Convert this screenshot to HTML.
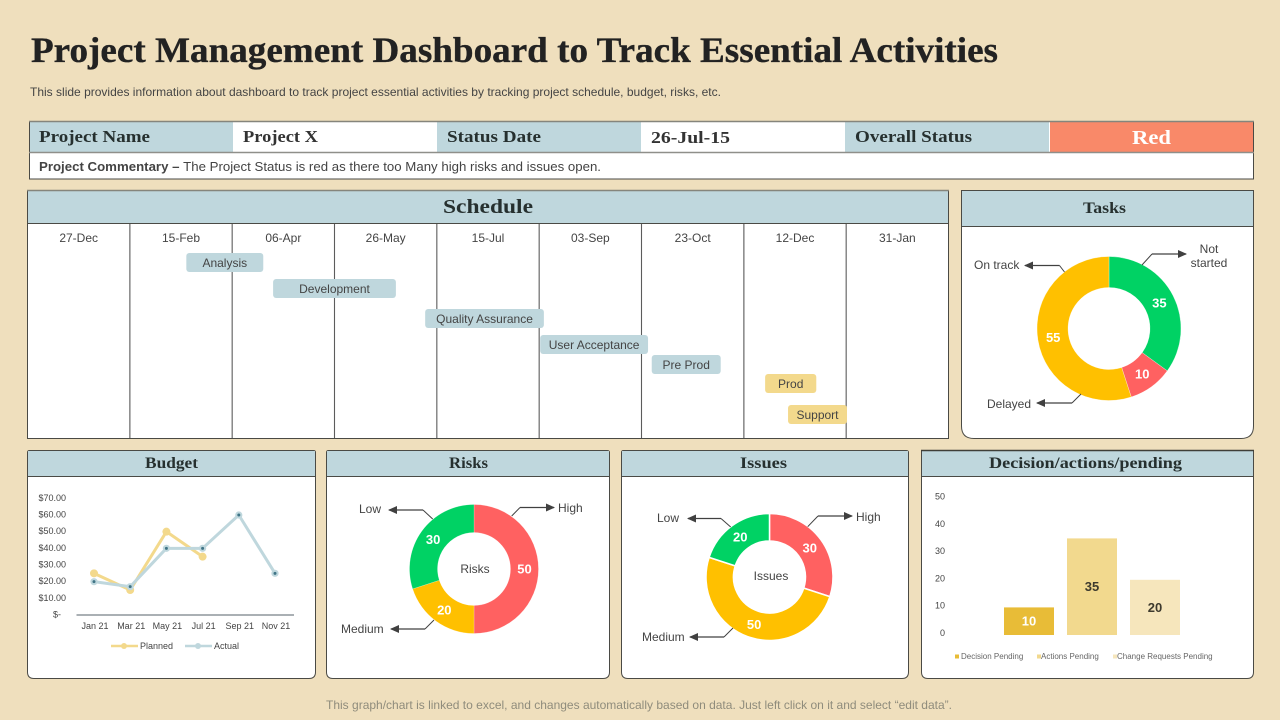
<!DOCTYPE html>
<html lang="en">
<head>
<meta charset="utf-8">
<title>Project Management Dashboard</title>
<style>
html,body{margin:0;padding:0;background:#EFDFBD;}
svg{display:block;width:1280px;height:720px;}
text{font-family:"Liberation Sans",sans-serif;fill:#444;}
.serif{font-family:"Liberation Serif",serif;font-weight:bold;fill:#26302f;}
.head{fill:#BFD7DD;}
.call{fill:none;stroke:#404040;stroke-width:1;}
.arrow{fill:none;stroke:#404040;stroke-width:1.2;marker-end:url(#arrowhead);}
.lab{font-size:12px;}
</style>
</head>
<body>
<svg id="dash" xmlns="http://www.w3.org/2000/svg" width="1280" height="720" viewBox="0 0 1280 720">
<defs>
<marker id="arrowhead" markerWidth="9" markerHeight="8" refX="8" refY="4" orient="auto" markerUnits="userSpaceOnUse"><path d="M0,0 L9,4 L0,8 Z" fill="#404040"/></marker>
</defs>
<rect width="1280" height="720" fill="#EFDFBD"/>
<text class="serif" x="31" y="62" font-size="36" textLength="967" lengthAdjust="spacingAndGlyphs" style="fill:#222;stroke:#222;stroke-width:.35">Project Management Dashboard to Track Essential Activities</text>
<text x="30" y="96" font-size="12" fill="#555" textLength="691" lengthAdjust="spacingAndGlyphs">This slide provides information about dashboard to track project essential activities by tracking project schedule, budget, risks, etc.</text>

<!-- status table -->
<g>
<rect x="29.5" y="121.5" width="1224" height="57.5" fill="#fff" stroke="#4a4a45"/>
<rect x="30" y="122" width="203" height="30" class="head"/>
<rect x="437" y="122" width="204" height="30" class="head"/>
<rect x="845" y="122" width="204" height="30" class="head"/>
<rect x="1050" y="122" width="203" height="30" fill="#F98969"/>
<line x1="29" y1="152.5" x2="1254" y2="152.5" stroke="#8f8f8a" stroke-width="1.5"/>
<line x1="29" y1="121.5" x2="1254" y2="121.5" stroke="#85857c" stroke-width="1.5"/>
<text class="serif" x="39" y="142" font-size="17" textLength="111" lengthAdjust="spacingAndGlyphs">Project Name</text>
<text class="serif" x="243" y="142" font-size="17" textLength="75" lengthAdjust="spacingAndGlyphs" style="fill:#333">Project X</text>
<text class="serif" x="447" y="142" font-size="17" textLength="94" lengthAdjust="spacingAndGlyphs">Status Date</text>
<text class="serif" x="651" y="143" font-size="17" textLength="79" lengthAdjust="spacingAndGlyphs" style="fill:#333">26-Jul-15</text>
<text class="serif" x="855" y="142" font-size="17" textLength="117" lengthAdjust="spacingAndGlyphs">Overall Status</text>
<text class="serif" x="1132" y="144" font-size="20" textLength="39" lengthAdjust="spacingAndGlyphs" style="fill:#fff">Red</text>
<text x="39" y="171" font-size="12.5" fill="#444" textLength="562" lengthAdjust="spacingAndGlyphs"><tspan font-weight="bold">Project Commentary – </tspan>The Project Status is red as there too Many high risks and issues open.</text>
</g>

<!-- schedule -->
<g id="schedule">
<rect x="27.5" y="190.5" width="921" height="248" fill="#fff" stroke="#4a4a45"/>
<rect x="28" y="191" width="920" height="32" class="head"/>
<line x1="27" y1="190.5" x2="949" y2="190.5" stroke="#85857c" stroke-width="1.5"/>
<line x1="27" y1="223.5" x2="949" y2="223.5" stroke="#4a4a45"/>
<text class="serif" x="443" y="213" font-size="20" textLength="90" lengthAdjust="spacingAndGlyphs">Schedule</text>
</g>

<!-- tasks -->
<g id="tasks">
<path d="M961.5,190.5 H1253.5 V426 Q1253.5,438.5 1241,438.5 H974 Q961.5,438.5 961.5,426 Z" fill="#fff" stroke="#4a4a45"/>
<rect x="962" y="191" width="291" height="35" class="head"/>
<line x1="961" y1="226.5" x2="1254" y2="226.5" stroke="#4a4a45"/>
<text class="serif" x="1083" y="213" font-size="16" textLength="43" lengthAdjust="spacingAndGlyphs">Tasks</text>
<polyline class="call" points="1142,265 1152,254"/>
<line class="arrow" x1="1152" y1="254" x2="1186" y2="254"/>
<text class="lab" x="1209" y="253" text-anchor="middle">Not</text>
<text class="lab" x="1209" y="267" text-anchor="middle">started</text>
<polyline class="call" points="1064.5,272 1059.5,265.5"/>
<line class="arrow" x1="1059.5" y1="265.5" x2="1025" y2="265.5"/>
<text class="lab" x="974" y="269">On track</text>
<polyline class="call" points="1081,394 1072,403"/>
<line class="arrow" x1="1072" y1="403" x2="1037" y2="403"/>
<text class="lab" x="987" y="408">Delayed</text>
</g>

<!-- budget -->
<g id="budget">
<path d="M29.5,450.5 H313.5 Q315.5,450.5 315.5,452.5 V672 Q315.5,678.5 309,678.5 H34 Q27.5,678.5 27.5,672 V452.5 Q27.5,450.5 29.5,450.5 Z" fill="#fff" stroke="#4a4a45"/>
<rect x="28" y="451" width="287" height="25" class="head"/>
<line x1="27" y1="476.5" x2="316" y2="476.5" stroke="#4a4a45"/>
<text class="serif" x="145" y="468" font-size="15.5" textLength="53" lengthAdjust="spacingAndGlyphs">Budget</text>
</g>

<!-- risks -->
<g id="risks">
<path d="M328.5,450.5 H607 Q609.5,450.5 609.5,452.5 V672 Q609.5,678.5 603,678.5 H333 Q326.5,678.5 326.5,672 V452.5 Q326.5,450.5 328.5,450.5 Z" fill="#fff" stroke="#4a4a45"/>
<rect x="327" y="451" width="282" height="25" class="head"/>
<line x1="326" y1="476.5" x2="610" y2="476.5" stroke="#4a4a45"/>
<text class="serif" x="449" y="468" font-size="15.5" textLength="39" lengthAdjust="spacingAndGlyphs">Risks</text>
<polyline class="call" points="511.7,516 520,507.5"/>
<line class="arrow" x1="520" y1="507.5" x2="554" y2="507.5"/>
<text class="lab" x="558" y="512">High</text>
<polyline class="call" points="432.7,519 423,510"/>
<line class="arrow" x1="423" y1="510" x2="389" y2="510"/>
<text class="lab" x="359" y="513">Low</text>
<polyline class="call" points="434,620 425,629"/>
<line class="arrow" x1="425" y1="629" x2="391" y2="629"/>
<text class="lab" x="341" y="633">Medium</text>
<text class="lab" x="475" y="573" text-anchor="middle">Risks</text>
</g>

<!-- issues -->
<g id="issues">
<path d="M623.5,450.5 H906 Q908.5,450.5 908.5,452.5 V672 Q908.5,678.5 902,678.5 H628 Q621.5,678.5 621.5,672 V452.5 Q621.5,450.5 623.5,450.5 Z" fill="#fff" stroke="#4a4a45"/>
<rect x="622" y="451" width="286" height="25" class="head"/>
<line x1="621" y1="476.5" x2="909" y2="476.5" stroke="#4a4a45"/>
<text class="serif" x="740" y="468" font-size="15.5" textLength="47" lengthAdjust="spacingAndGlyphs">Issues</text>
<polyline class="call" points="807.7,526.7 818,516"/>
<line class="arrow" x1="818" y1="516" x2="852" y2="516"/>
<text class="lab" x="856" y="521">High</text>
<polyline class="call" points="730.7,527 721,518.5"/>
<line class="arrow" x1="721" y1="518.5" x2="688" y2="518.5"/>
<text class="lab" x="657" y="522">Low</text>
<polyline class="call" points="733,628 724,637"/>
<line class="arrow" x1="724" y1="637" x2="690" y2="637"/>
<text class="lab" x="642" y="641">Medium</text>
<text class="lab" x="771" y="580" text-anchor="middle">Issues</text>
</g>

<!-- decisions -->
<g id="decisions">
<path d="M921.5,450.5 H1253.5 V672 Q1253.5,678.5 1247,678.5 H928 Q921.5,678.5 921.5,672 Z" fill="#fff" stroke="#4a4a45"/>
<rect x="922" y="451" width="331" height="25" class="head"/>
<line x1="921" y1="450.5" x2="1254" y2="450.5" stroke="#3f3f38" stroke-width="1.5"/>
<line x1="921" y1="476.5" x2="1254" y2="476.5" stroke="#4a4a45"/>
<text class="serif" x="989" y="468" font-size="15.5" textLength="193" lengthAdjust="spacingAndGlyphs">Decision/actions/pending</text>
</g>

<text x="326" y="709" font-size="12" style="fill:#8f8c7c" textLength="626" lengthAdjust="spacingAndGlyphs">This graph/chart is linked to excel,  and changes automatically based on data. Just left click on it and select “edit data”.</text>
</svg>

<script>
/* Schedule data (days since 27-Dec) */
const scheduleDates = ['27-Dec','15-Feb','06-Apr','26-May','15-Jul','03-Sep','23-Oct','12-Dec','31-Jan'];
const scheduleStepDays = 50;
const taskNames = ['Analysis','Development','Quality Assurance','User Acceptance','Pre Prod','Prod','Support'];
const taskStartDays = [77.6,120,194.3,250.5,305,360.4,371.6];
const taskDurations = [37.6,60,58,52.7,33.7,25,28.8];
const taskPhase = ['build','build','build','build','build','release','release'];

/* Donut data */
const tasksLabels = ['Not started','Delayed','On track'];
const tasksValues = [35,10,55];
const risksLabels = ['High','Medium','Low'];
const risksValues = [50,20,30];
const issuesLabels = ['High','Medium','Low'];
const issuesValues = [30,50,20];

/* Budget data */
const budgetMonths = ['Jan 21','Mar 21','May 21','Jul 21','Sep 21','Nov 21'];
const budgetPlanned = [25,15,50,35];
const budgetActual = [20,17,40,40,60,25];
const budgetTicks = [0,10,20,30,40,50,60,70];
const budgetTickLabels = ['$-','$10.00','$20.00','$30.00','$40.00','$50.00','$60.00','$70.00'];

/* Decision data */
const decisionCategories = ['Decision Pending','Actions Pending','Change Requests Pending'];
const decisionValues = [10,35,20];
const decisionTicks = [0,10,20,30,40,50];

const NS = 'http://www.w3.org/2000/svg';
function mk(parent, tag, attrs, txt) {
  const el = document.createElementNS(NS, tag);
  for (const k in attrs) el.setAttribute(k, attrs[k]);
  if (txt !== undefined) el.textContent = txt;
  parent.appendChild(el);
  return el;
}
function slug(s) { return s.toLowerCase().replace(/[^a-z0-9]+/g, '-'); }

/* ---------- Schedule ---------- */
(function () {
  const g = document.getElementById('schedule');
  const x0 = 27.5, pxPerDay = 921 / (scheduleDates.length * scheduleStepDays);
  const sx = d => x0 + d * pxPerDay;
  scheduleDates.forEach((d, i) => {
    const left = sx(i * scheduleStepDays);
    const right = sx((i + 1) * scheduleStepDays);
    if (i > 0) {
      const ln = mk(g, 'line', { x1: left, y1: 224, x2: left, y2: 438, stroke: i === 1 || i === 7 ? '#8d8d8d' : '#5c5c5c', 'stroke-width': i === 1 || i === 7 ? 1.6 : 1.1 });
      
      
    }
    const t = mk(g, 'text', { x: (left + right) / 2, y: 242, 'font-size': 12, 'text-anchor': 'middle' }, d);
    
    
  });
  const laneTops = [253, 279, 309, 335, 355, 374, 405];
  taskNames.forEach((name, i) => {
    const x = sx(taskStartDays[i]);
    const w = taskDurations[i] * pxPerDay;
    const release = taskPhase[i] === 'release';
    const b = mk(g, 'rect', { x: x, y: laneTops[i], width: w, height: 19, rx: 3, fill: release ? '#F3D98C' : '#BFD7DD' });
    
    
    const t = mk(g, 'text', { x: x + w / 2, y: laneTops[i] + 14, 'font-size': 12, 'text-anchor': 'middle' }, name);
    
    
  });
})();

/* ---------- Donuts ---------- */
function drawDonut(groupId, prefix, labels, values, colors, cx, cy, r, ir, gap) {
  const g = document.getElementById(groupId);
  const total = values.reduce((a, b) => a + b, 0);
  const pt = (rad, ang) => [cx + rad * Math.sin(ang), cy - rad * Math.cos(ang)];
  const anchor = g.querySelector('polyline');
  let acc = 0;
  values.forEach((v, i) => {
    const a0 = acc / total * 2 * Math.PI;
    acc += v;
    const a1 = acc / total * 2 * Math.PI;
    const large = a1 - a0 > Math.PI ? 1 : 0;
    const p0 = pt(r, a0), p1 = pt(r, a1), p2 = pt(ir, a1), p3 = pt(ir, a0);
    const d = 'M' + p0 + ' A' + r + ',' + r + ' 0 ' + large + ' 1 ' + p1 +
      ' L' + p2 + ' A' + ir + ',' + ir + ' 0 ' + large + ' 0 ' + p3 + ' Z';
    const s = document.createElementNS(NS, 'path');
    s.setAttribute('d', d);
    s.setAttribute('fill', colors[i]);
    s.setAttribute('stroke', '#fff');
    s.setAttribute('stroke-width', gap);
    
    
    g.insertBefore(s, anchor);
    const mid = (a0 + a1) / 2;
    const lp = pt((r + ir) / 2, mid);
    const t = mk(g, 'text', { x: lp[0], y: lp[1] + 4.5, 'font-size': 13, 'font-weight': 'bold', 'text-anchor': 'middle', style: 'fill:#fff' }, String(v));
    
    
  });
}
const GREEN = '#00D264', RED = '#FF6161', AMBER = '#FFC000';
drawDonut('tasks', 'tasks', tasksLabels, tasksValues, [GREEN, RED, AMBER], 1109, 328.5, 72, 41, 0.3);
drawDonut('risks', 'risks', risksLabels, risksValues, [RED, AMBER, GREEN], 474, 569, 64.5, 36.5, 0.2);
drawDonut('issues', 'issues', issuesLabels, issuesValues, [RED, AMBER, GREEN], 769.5, 577, 63.5, 36, 1.5);

/* ---------- Budget ---------- */
(function () {
  const g = document.getElementById('budget');
  const bx = i => 94 + i * 36.2;
  const by = v => 615 - v * (100 / 60);
  budgetTicks.forEach((tk, i) => {
    const t = mk(g, 'text', { x: i === 0 ? 61 : 66, y: by(tk) + 2.5, 'font-size': 9, 'text-anchor': 'end' }, budgetTickLabels[i]);
    
    
  });
  const ax = mk(g, 'line', { x1: 76.5, y1: 615, x2: 294, y2: 615, stroke: '#55606a', 'stroke-width': 1 });
  
  
  budgetMonths.forEach((m, i) => {
    const t = mk(g, 'text', { x: bx(i) + 1, y: 629, 'font-size': 9, 'text-anchor': 'middle' }, m);
    
    
  });
  const pl = mk(g, 'polyline', { points: budgetPlanned.map((v, i) => bx(i) + ',' + by(v)).join(' '), fill: 'none', stroke: '#F3D98C', 'stroke-width': 3, 'stroke-linejoin': 'round' });
  
  
  budgetPlanned.forEach((v, i) => {
    const c = mk(g, 'circle', { cx: bx(i), cy: by(v), r: 4, fill: '#F3D98C' });
    
    
  });
  const al = mk(g, 'polyline', { points: budgetActual.map((v, i) => bx(i) + ',' + by(v)).join(' '), fill: 'none', stroke: '#BFD7DD', 'stroke-width': 3, 'stroke-linejoin': 'round' });
  
  
  budgetActual.forEach((v, i) => {
    const c = mk(g, 'circle', { cx: bx(i), cy: by(v), r: 3.6, fill: '#BFD7DD' });
    
    
    const d = mk(g, 'circle', { cx: bx(i), cy: by(v), r: 1.5, fill: '#3f7486' });
    
    
  });
  const l1 = mk(g, 'line', { x1: 111, y1: 646, x2: 138, y2: 646, stroke: '#F3D98C', 'stroke-width': 2.5 });
  
  
  const c1 = mk(g, 'circle', { cx: 124, cy: 646, r: 3, fill: '#F3D98C' });
  
  
  const t1 = mk(g, 'text', { x: 140, y: 649, 'font-size': 9 }, 'Planned');
  
  
  const l2 = mk(g, 'line', { x1: 185, y1: 646, x2: 212, y2: 646, stroke: '#BFD7DD', 'stroke-width': 2.5 });
  
  
  const c2 = mk(g, 'circle', { cx: 198, cy: 646, r: 3, fill: '#BFD7DD' });
  
  
  const t2 = mk(g, 'text', { x: 214, y: 649, 'font-size': 9 }, 'Actual');
  
  
})();

/* ---------- Decisions ---------- */
(function () {
  const g = document.getElementById('decisions');
  const vy = v => 635 - v * 2.76;
  const tickY = v => 636 - v * 2.726;
  const cx = i => 1029 + i * 63;
  const fills = ['#E8BC37', '#F2D98E', '#F6E6BC'];
  const textFills = ['#fff', '#3d3a2e', '#3d3a2e'];
  const legendX = [955, 1037, 1113];
  const legendGap = [6, 4, 4];
  decisionTicks.forEach(tk => {
    const t = mk(g, 'text', { x: 945, y: tickY(tk), 'font-size': 9, 'text-anchor': 'end' }, String(tk));
    
    
  });
  decisionValues.forEach((v, i) => {
    const b = mk(g, 'rect', { x: cx(i) - 25, y: vy(v), width: 50, height: 635 - vy(v), fill: fills[i] });
    
    
    const t = mk(g, 'text', { x: cx(i), y: vy(v / 2) + 4.5, 'font-size': 13, 'font-weight': 'bold', 'text-anchor': 'middle', style: 'fill:' + textFills[i] }, String(v));
    
    
    const s = mk(g, 'rect', { x: legendX[i], y: 654.5, width: 4, height: 4, fill: fills[i] });
    
    
    const lt = mk(g, 'text', { x: legendX[i] + legendGap[i], y: 659, 'font-size': 8, style: 'fill:#666' }, decisionCategories[i]);
    
    
  });
})();
</script>
</body>
</html>
